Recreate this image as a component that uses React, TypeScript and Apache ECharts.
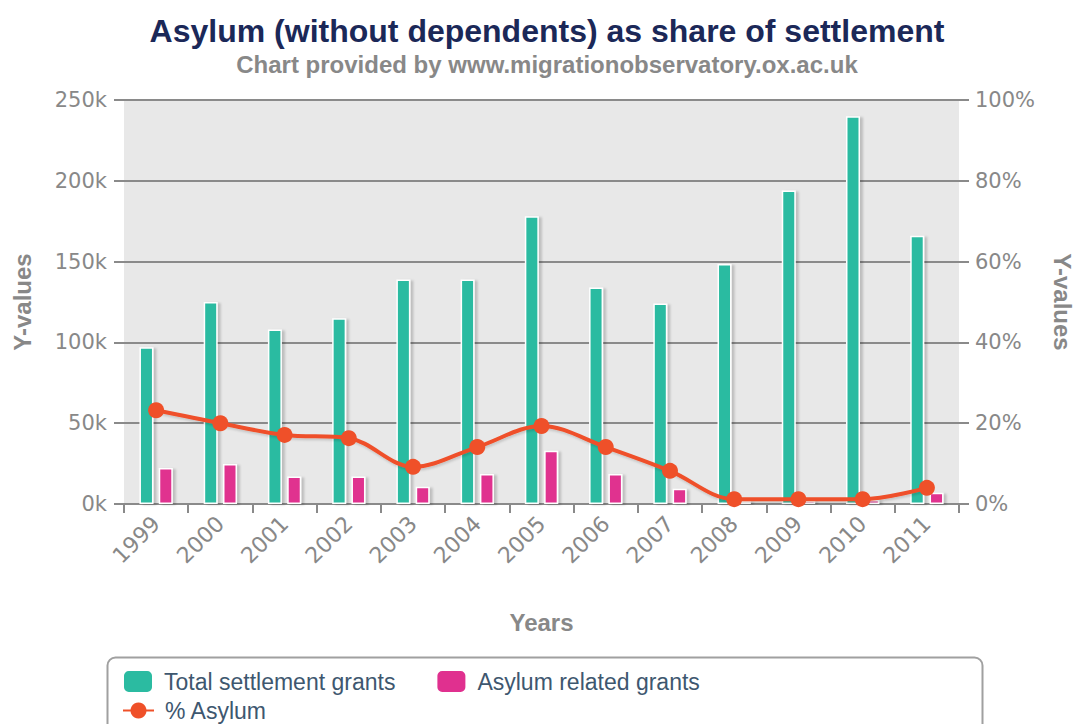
import React, { useEffect, useRef } from "react";
import * as echarts from "echarts";

const categories = ["1999", "2000", "2001", "2002", "2003", "2004", "2005", "2006", "2007", "2008", "2009", "2010", "2011"];
const totalSettlement = [97000, 125000, 108000, 115000, 139000, 139000, 178000, 134000, 124000, 148500, 194000, 240000, 166000];
const asylumGrants = [22300, 24800, 17000, 17000, 10700, 18500, 33000, 18600, 9500, 1800, 2000, 2500, 7000];
const pctAsylum = [23.2, 20.0, 17.1, 16.3, 9.2, 14.1, 19.3, 14.1, 8.2, 1.2, 1.2, 1.2, 4.0];
const leftTicks = { min: 0, max: 250000, interval: 50000 };
const rightTicks = { min: 0, max: 100, interval: 20 };

const GREEN = "#2bbba1";
const PINK = "#e0308f";
const ORANGE = "#ef5029";
const AXIS_GRAY = "#8a8a8a";
const LABEL_GRAY = "#888888";
const SANS = "'Liberation Sans', Arial, sans-serif";
const AXFONT = "'DejaVu Sans', Verdana, sans-serif";

export default function App() {
  const ref = useRef<HTMLDivElement>(null);
  useEffect(() => {
    document.body.style.margin = "0";
    document.body.style.overflow = "hidden";
    document.documentElement.style.overflow = "hidden";
    if (!ref.current) return;
    const chart = echarts.init(ref.current, null, { renderer: "svg" });
    const barShadow = { shadowColor: "rgba(0,0,0,0.18)", shadowBlur: 2, shadowOffsetX: 3, shadowOffsetY: 1 };
    chart.setOption({
      animation: false,
      backgroundColor: "#ffffff",
      title: {
        text: "Asylum (without dependents) as share of settlement",
        subtext: "Chart provided by www.migrationobservatory.ox.ac.uk",
        left: 542,
        textAlign: "center",
        top: 10,
        itemGap: 5,
        textStyle: { fontFamily: SANS, fontWeight: "bold", fontSize: 32, color: "#1b2858" },
        subtextStyle: { fontFamily: SANS, fontWeight: "bold", fontSize: 24, color: "#888888" },
      },
      grid: {
        left: 124,
        right: 115,
        top: 100,
        bottom: 220,
        show: true,
        backgroundColor: "#e8e8e8",
        borderWidth: 0,
        containLabel: false,
        outerBoundsMode: "none",
      },
      legend: [
        {
          data: ["Total settlement grants", "Asylum related grants"],
          left: 122,
          top: 669,
          padding: 0,
          itemWidth: 30,
          itemHeight: 23,
          itemGap: 40,
          icon: "roundRect",
          textStyle: { fontFamily: SANS, fontSize: 23, color: "#3e576f", padding: [0, 0, 0, 6] },
        },
        {
          data: ["% Asylum"],
          left: 122,
          top: 699,
          padding: 0,
          itemWidth: 31,
          itemHeight: 20,
          textStyle: { fontFamily: SANS, fontSize: 23, color: "#3e576f", padding: [0, 0, 0, 6] },
        },
      ],
      graphic: [
        {
          type: "rect",
          left: 105,
          top: 655,
          shape: { width: 875, height: 100, r: 8 },
          style: { fill: "none", stroke: "#a0a0a0", lineWidth: 2 },
          silent: true,
        },
      ],
      xAxis: {
        type: "category",
        data: categories,
        boundaryGap: true,
        name: "Years",
        nameLocation: "middle",
        nameGap: 106,
        nameTextStyle: { fontFamily: SANS, fontWeight: "bold", fontSize: 24, color: LABEL_GRAY },
        axisLine: { show: true, lineStyle: { color: AXIS_GRAY, width: 2 } },
        axisTick: { show: true, length: 9, alignWithLabel: false, lineStyle: { color: AXIS_GRAY, width: 2 } },
        axisLabel: { rotate: 45, margin: 16, fontFamily: AXFONT, fontSize: 22, color: LABEL_GRAY },
        splitLine: { show: false },
      },
      yAxis: [
        {
          type: "value",
          min: leftTicks.min,
          max: leftTicks.max,
          interval: leftTicks.interval,
          name: "Y-values",
          nameLocation: "middle",
          nameRotate: 90,
          nameGap: 90,
          nameTextStyle: { fontFamily: SANS, fontWeight: "bold", fontSize: 24, color: LABEL_GRAY },
          axisLine: { show: false },
          axisTick: { show: true, length: 10, lineStyle: { color: AXIS_GRAY, width: 2 } },
          axisLabel: {
            margin: 17,
            fontFamily: AXFONT,
            fontSize: 21,
            color: LABEL_GRAY,
            formatter: (v: number) => `${v / 1000}k`,
          },
          splitLine: { show: true, lineStyle: { color: AXIS_GRAY, width: 2 } },
        },
        {
          type: "value",
          position: "right",
          min: rightTicks.min,
          max: rightTicks.max,
          interval: rightTicks.interval,
          name: "Y-values",
          nameLocation: "middle",
          nameRotate: -90,
          nameGap: 91,
          nameTextStyle: { fontFamily: SANS, fontWeight: "bold", fontSize: 24, color: LABEL_GRAY },
          axisLine: { show: false },
          axisTick: { show: true, length: 10, lineStyle: { color: AXIS_GRAY, width: 2 } },
          axisLabel: {
            margin: 16,
            fontFamily: AXFONT,
            fontSize: 21,
            color: LABEL_GRAY,
            formatter: "{value}%",
          },
          splitLine: { show: false },
        },
      ],
      series: [
        {
          name: "Total settlement grants",
          type: "bar",
          yAxisIndex: 0,
          data: totalSettlement,
          barWidth: 14,
          barGap: "38%",
          itemStyle: { color: GREEN, borderColor: "#ffffff", borderWidth: 1.5, ...barShadow },
        },
        {
          name: "Asylum related grants",
          type: "bar",
          yAxisIndex: 0,
          data: asylumGrants,
          barWidth: 14,
          itemStyle: { color: PINK, borderColor: "#ffffff", borderWidth: 1.5, ...barShadow },
        },
        {
          name: "% Asylum",
          type: "line",
          yAxisIndex: 1,
          data: pctAsylum,
          smooth: 0.35,
          symbol: "circle",
          symbolSize: 16,
          lineStyle: { color: ORANGE, width: 4, shadowColor: "rgba(0,0,0,0.15)", shadowBlur: 2, shadowOffsetX: 1, shadowOffsetY: 2 },
          itemStyle: { color: ORANGE },
          z: 5,
        },
      ],
    });
    return () => chart.dispose();
  }, []);
  return <div ref={ref} style={{ width: 1074, height: 724 }} />;
}
